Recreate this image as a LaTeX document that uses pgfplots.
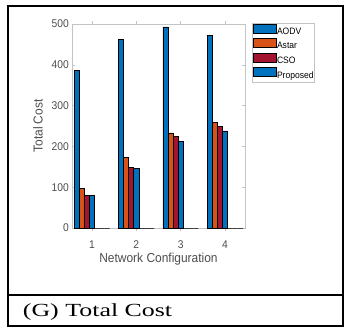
\documentclass[border=0pt]{standalone}
\usepackage{fontspec}
\usepackage{pgfplots}
\pgfplotsset{compat=1.18}
\setmainfont{Liberation Sans}
\newfontfamily\chartfont{Liberation Sans}[FakeStretch=0.92]
\newfontfamily\capfont{Liberation Serif}[FakeStretch=1.4]

\definecolor{aodv}{RGB}{0,114,189}
\definecolor{astar}{RGB}{217,83,25}
\definecolor{cso}{RGB}{162,20,47}
\definecolor{prop}{RGB}{0,114,189}
\definecolor{txt}{RGB}{77,77,77}
\definecolor{axgray}{RGB}{195,195,195}

\begin{document}
\begin{tikzpicture}
\useasboundingbox (0pt,0pt) rectangle (344pt,327pt);
% panel frame and caption
\draw[line width=2pt] (8pt,1pt) rectangle (343pt,321pt);
\draw[line width=2pt] (8pt,32pt) -- (343pt,32pt);
\node[anchor=base west, inner sep=0pt, font=\fontsize{18.5}{20}\capfont] at (22.7pt,10.3pt) {(G) Total Cost};

\begin{axis}[
  at={(72pt,99pt)}, anchor=south west,
  scale only axis, width=173pt, height=204pt,
  xmin=0.55, xmax=4.45, ymin=0, ymax=500,
  xtick={1,2,3,4}, ytick={0,100,200,300,400,500},
  tick align=inside, xtick pos=both, ytick pos=both,
  major tick length=3pt,
  axis line style={axgray, line width=0.6pt},
  tick style={axgray, line width=0.6pt},
  /pgf/number format/assume math mode=true,
  ticklabel style={font=\fontsize{11.2}{13}\chartfont, text=txt},
  xticklabel style={anchor=center, yshift=-14pt, inner sep=0pt},
  yticklabel style={anchor=east, xshift=-3pt, inner sep=0pt},
  xlabel={Network Configuration}, ylabel={Total Cost},
  label style={font=\fontsize{13}{15}\chartfont, text=txt},
  xlabel style={at={(axis description cs:0.5,-0.152)}, anchor=center},
  ylabel style={at={(axis description cs:-0.197,0.5)}, anchor=center},
  ybar, bar width=0.1143,
  every axis plot/.append style={draw=black, line width=0.7pt},
  legend style={
    at={(axis description cs:1.04,1.005)}, anchor=north west,
    draw=axgray, line width=0.6pt, fill=white,
    font=\fontsize{9.3}{11}\chartfont, text=black,
    inner xsep=0.5pt, inner ysep=0.5pt, row sep=0pt,
    nodes={inner xsep=0.6pt, inner ysep=1.9pt, text height=7pt, text depth=2pt},
  },
  legend cell align=left,
  legend image code/.code={\draw[#1, draw=black, line width=0.7pt] (0pt,-1.2pt) rectangle (23pt,7.8pt);},
]
\addplot[fill=aodv,  bar shift=-0.3429] coordinates {(1,387) (2,463) (3,493) (4,471)};
\addplot[fill=astar, bar shift=-0.2286] coordinates {(1,97) (2,173) (3,233) (4,258)};
\addplot[fill=cso,   bar shift=-0.1143] coordinates {(1,79) (2,149) (3,224) (4,249)};
\addplot[fill=prop,  bar shift=0]       coordinates {(1,79) (2,147) (3,212) (4,238)};
\addplot[fill=aodv,  bar shift=0.1143, forget plot] coordinates {(1,0) (2,0) (3,0) (4,0)};
\addplot[fill=astar, bar shift=0.2286, forget plot] coordinates {(1,0) (2,0) (3,0) (4,0)};
\addplot[fill=cso,   bar shift=0.3429, forget plot] coordinates {(1,0) (2,0) (3,0) (4,0)};
\legend{AODV, Astar, CSO, Proposed}
\end{axis}
\end{tikzpicture}
\end{document}
